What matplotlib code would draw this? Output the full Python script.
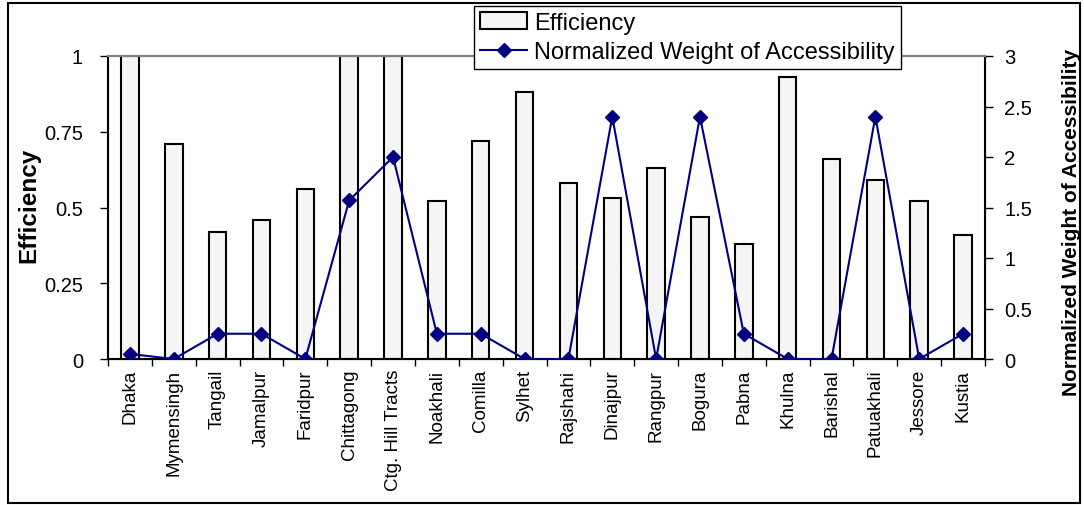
import matplotlib
matplotlib.use("Agg")
import matplotlib.pyplot as plt
import numpy as np
from matplotlib.patches import Rectangle

# --- DATA ---
districts = ['Dhaka', 'Mymensingh', 'Tangail', 'Jamalpur', 'Faridpur', 'Chittagong',
             'Ctg. Hill Tracts', 'Noakhali', 'Comilla', 'Sylhet', 'Rajshahi', 'Dinajpur',
             'Rangpur', 'Bogura', 'Pabna', 'Khulna', 'Barishal', 'Patuakhali', 'Jessore', 'Kustia']
efficiency = [1.0, 0.71, 0.42, 0.46, 0.56, 1.0, 1.0, 0.52, 0.72, 0.88,
              0.58, 0.53, 0.63, 0.47, 0.38, 0.93, 0.66, 0.59, 0.52, 0.41]
accessibility = [0.05, 0.0, 0.25, 0.25, 0.0, 1.57, 2.0, 0.25, 0.25, 0.0,
                 0.0, 2.4, 0.0, 2.4, 0.25, 0.0, 0.0, 2.4, 0.0, 0.25]

plt.rcParams['font.family'] = ['Liberation Sans', 'DejaVu Sans']

fig = plt.figure(figsize=(10.84, 5.06), dpi=100)
ax = fig.add_axes([108/1084, 1-360/506, (985-108)/1084, (360-57)/506])
x = np.arange(len(districts))

bars = ax.bar(x, efficiency, width=0.4, color='#f5f5f5', edgecolor='black',
              linewidth=1.5, label='Efficiency', zorder=2)
ax.set_xlim(-0.5, len(districts) - 0.5)
ax.set_ylim(0, 1)
ax.set_yticks([0, 0.25, 0.5, 0.75, 1])
ax.set_yticklabels(['0', '0.25', '0.5', '0.75', '1'])
ax.set_xticks(x)
ax.set_xticklabels(districts, rotation=90, fontsize=13.5)
ax.set_xticks(np.arange(-0.5, len(districts)), minor=True)
ax.tick_params(axis='x', which='major', length=0, pad=7)
ax.tick_params(axis='x', which='minor', length=5, width=1, direction='out')
ax.tick_params(axis='y', labelsize=14.5, length=6, width=1, direction='out', pad=12)
ax.set_ylabel('Efficiency', fontsize=17.5, fontweight='bold')
ax.yaxis.set_label_coords((40-108)/877, (360-205)/303)
for s in ['left', 'bottom']:
    ax.spines[s].set_linewidth(1.5)
ax.spines['top'].set_color('#808080')
ax.spines['top'].set_linewidth(1.5)

ax2 = ax.twinx()
line, = ax2.plot(x, accessibility, color='#000080', marker='D', markersize=7.5,
                 linewidth=1.5, label='Normalized Weight of Accessibility', zorder=3)
ax2.set_ylim(0, 3)
ax2.set_yticks([0, 0.5, 1, 1.5, 2, 2.5, 3])
ax2.set_yticklabels(['0', '0.5', '1', '1.5', '2', '2.5', '3'])
ax2.tick_params(axis='y', labelsize=14.5, length=6, width=1, direction='out', pad=8)
ax2.set_ylabel('Normalized Weight of Accessibility', fontsize=15, fontweight='bold')
ax2.yaxis.set_label_coords((1062-108)/877, (360-222)/303)
ax2.spines['right'].set_linewidth(1.5)
ax2.spines['top'].set_color('#808080')
ax2.spines['top'].set_linewidth(1.5)

leg = fig.legend([bars, line], ['Efficiency', 'Normalized Weight of Accessibility'],
                 loc='upper left', bbox_to_anchor=(474/1084, 1-7/506), fontsize=17,
                 frameon=True, fancybox=False, edgecolor='black', framealpha=1,
                 borderpad=0.25, handlelength=2.0, handletextpad=0.3, labelspacing=0.3,
                 borderaxespad=0)
leg.get_frame().set_linewidth(1.0)
leg.set_zorder(10)

# outer chart frame
fig.patches.append(Rectangle((8/1084, 2/506), 1072/1084, 500/506, transform=fig.transFigure,
                             fill=False, edgecolor='black', linewidth=1.5, zorder=0))

fig.savefig('out.png', dpi=100)
